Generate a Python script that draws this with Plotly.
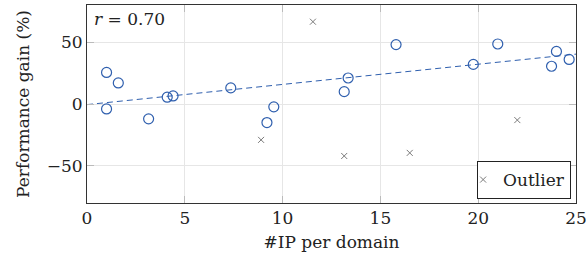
import plotly.graph_objects as go

# Regular points (#IP per domain, performance gain %)
ip_per_domain = [1.0, 1.0, 1.6, 3.15, 4.1, 4.4, 7.35, 9.2, 9.55, 13.15, 13.35, 15.8, 19.75, 21.0, 23.75, 24.0, 24.65]
perf_gain = [25.5, -4, 17, -12, 5.5, 6.5, 13, -15, -2.3, 10, 21, 48, 32, 48.5, 30.5, 42.5, 36]

# Outliers
out_x = [8.9, 11.55, 13.15, 16.5, 22.0]
out_y = [-29, 66.5, -42, -39.5, -13]

# Trend line endpoints
trend_x = [0, 25]
trend_y = [-0.5, 40.3]

r_label = "<i>r</i> = 0.70"

FONT = "DejaVu Serif"
FS = 17
BLUE = "#2f5fae"
GRAY = "#7a7a7a"
TXT = "#222222"

fig = go.Figure()
fig.add_trace(go.Scatter(x=trend_x, y=trend_y, mode="lines",
                         line=dict(color=BLUE, width=1, dash="6px,4px"),
                         showlegend=False, hoverinfo="skip"))
fig.add_trace(go.Scatter(x=ip_per_domain, y=perf_gain, mode="markers",
                         marker=dict(symbol="circle-open", size=10, color=BLUE,
                                     line=dict(width=1.2, color=BLUE)),
                         showlegend=False))
fig.add_trace(go.Scatter(x=out_x, y=out_y, mode="markers", name="Outlier",
                         marker=dict(symbol="x-thin-open", size=6, color=GRAY,
                                     line=dict(width=1, color=GRAY)),
                         showlegend=True))

axis_common = dict(showline=True, linecolor="#333333", linewidth=1, mirror="ticks",
                   ticks="inside", ticklen=7, tickcolor="#bbbbbb",
                   showgrid=True, gridcolor="#e6e6e6", gridwidth=1, zeroline=False,
                   automargin=False, ticklabeloverflow="allow",
                   tickfont=dict(family=FONT, size=FS, color=TXT))

fig.update_xaxes(range=[0, 25], tickvals=[0, 5, 10, 15, 20, 25],
                 title=dict(text="#IP per domain", font=dict(family=FONT, size=FS, color=TXT),
                            standoff=8),
                 **axis_common)
fig.update_yaxes(range=[-80, 80], tickvals=[-50, 0, 50],
                 ticktext=["\u221250", "0", "50"],
                 title=dict(text="Performance gain (%)", font=dict(family=FONT, size=FS, color=TXT),
                            standoff=12),
                 **axis_common)

fig.add_annotation(text=r_label, xref="paper", yref="paper", x=0.01, y=0.99,
                   xanchor="left", yanchor="top", showarrow=False,
                   font=dict(family=FONT, size=FS, color=TXT))

fig.update_layout(
    width=586, height=258,
    margin=dict(l=87, r=10, t=5, b=55),
    plot_bgcolor="white", paper_bgcolor="white",
    showlegend=True,
    legend=dict(x=0.99, y=0.02, xanchor="right", yanchor="bottom",
                bordercolor=TXT, borderwidth=1, bgcolor="white",
                font=dict(family=FONT, size=FS, color=TXT),
                itemwidth=30, tracegroupgap=0, indentation=-15),
)

fig.write_html("out.html", config={"displayModeBar": False},
               post_script="document.body.style.margin='0';document.body.style.overflow='hidden';")
